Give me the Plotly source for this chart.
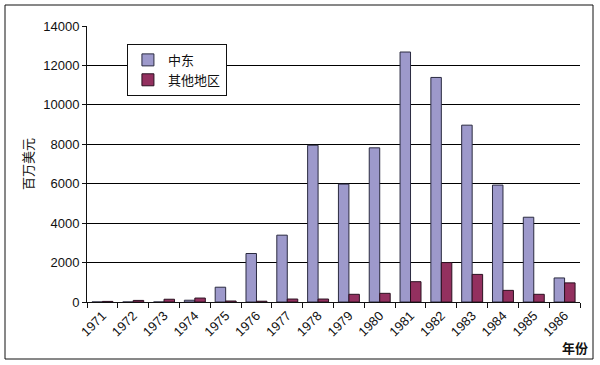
import plotly.graph_objects as go

years = [str(y) for y in range(1971, 1987)]
middle_east = [0, 0, 0, 90, 750, 2460, 3390, 7950, 5980, 7820, 12680, 11390, 8970, 5930, 4300, 1220]
other_regions = [30, 80, 140, 200, 50, 40, 150, 150, 390, 440, 1030, 2000, 1400, 590, 390, 970]

fig = go.Figure()
fig.add_trace(go.Bar(x=years, y=middle_east, name="中东",
                     marker=dict(color="#9d99cb", line=dict(color="#2b2b40", width=1))))
fig.add_trace(go.Bar(x=years, y=other_regions, name="其他地区",
                     marker=dict(color="#93305f", line=dict(color="#2b1020", width=1))))

fig.update_layout(
    width=600, height=365,
    margin=dict(l=87, r=20, t=26, b=63, autoexpand=False),
    paper_bgcolor="white", plot_bgcolor="white",
    barmode="group", bargap=0.32, bargroupgap=0,
    font=dict(family="Liberation Sans, Arial, sans-serif", size=12, color="#111"),
    legend=dict(x=0.081, y=0.935, xanchor="left", yanchor="top",
                bordercolor="#111", borderwidth=1, bgcolor="white",
                font=dict(family="Noto Sans CJK SC", size=13),
                itemwidth=30, tracegroupgap=0),
    showlegend=True,
)
fig.update_xaxes(type="category", showline=True, linecolor="#111", linewidth=1,
                 ticks="outside", tickson="boundaries", ticklen=5, tickcolor="#111",
                 tickangle=-45, tickfont=dict(size=13), showgrid=False, automargin=False)
fig.update_yaxes(range=[0, 14000], dtick=2000, tickformat="d", showline=True,
                 linecolor="#111", linewidth=1,
                 showgrid=True, gridcolor="#000000", gridwidth=1.3,
                 ticks="outside", ticklen=4, tickcolor="#111",
                 tickfont=dict(size=13), zeroline=False, automargin=False)

fig.add_annotation(text="百万美元", xref="paper", yref="paper",
                   x=(27 - 87) / 493, y=0.5, xanchor="center", yanchor="middle",
                   textangle=-90, showarrow=False,
                   font=dict(family="Noto Sans CJK SC", size=13, color="#111"))
fig.add_annotation(text="<b>年份</b>", xref="paper", yref="paper",
                   x=(575 - 87) / 493, y=(302 - 347) / 276, xanchor="center", yanchor="middle",
                   showarrow=False,
                   font=dict(family="Noto Sans CJK SC", size=13, color="#111"))

fig.add_shape(type="rect", xref="paper", yref="paper",
              x0=(5 - 87) / 493, x1=(593 - 87) / 493,
              y0=(302 - 359) / 276, y1=(302 - 5) / 276,
              line=dict(color="#111", width=1), fillcolor="rgba(0,0,0,0)")

fig.write_html("out.html", config={"displayModeBar": False},
               post_script="document.body.style.margin='0';document.body.style.overflow='hidden';")
